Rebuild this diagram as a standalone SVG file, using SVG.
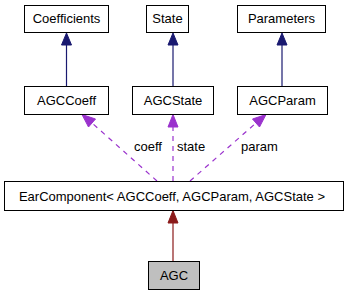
<svg xmlns="http://www.w3.org/2000/svg" width="347" height="296" viewBox="0 0 347 296">
  <style>
    .box { fill: #ffffff; stroke: #000000; stroke-width: 1; }
    .self { fill: #bfbfbf; stroke: #000000; stroke-width: 1; }
    .lbl { font-family: "Liberation Sans", Arial, Helvetica, sans-serif; font-size: 13px; fill: #000000; text-anchor: middle; }
    .edge-lbl { font-family: "Liberation Sans", Arial, Helvetica, sans-serif; font-size: 13px; fill: #000000; }
    .inherit { stroke: #191970; stroke-width: 1.2; fill: none; }
    .inherit-head { fill: #191970; stroke: #191970; }
    .usage { stroke: #9a32cd; stroke-width: 1.2; fill: none; stroke-dasharray: 5,5; }
    .usage-head { fill: #9a32cd; stroke: #9a32cd; }
    .tmpl { stroke: #8b1a1a; stroke-width: 1.2; fill: none; }
    .tmpl-head { fill: #8b1a1a; stroke: #8b1a1a; }
  </style>

  <rect width="347" height="296" fill="#ffffff"/>

  <g id="connectors">
    <!-- public inheritance -->
    <line class="inherit" x1="66.5" y1="86" x2="66.5" y2="44"/>
    <polygon class="inherit-head" points="66.5,33 61.5,45 71.5,45"/>
    <line class="inherit" x1="173" y1="86" x2="173" y2="44"/>
    <polygon class="inherit-head" points="173,33 168,45 178,45"/>
    <line class="inherit" x1="282" y1="86" x2="282" y2="44"/>
    <polygon class="inherit-head" points="282,33 277,45 287,45"/>

    <!-- usage relations -->
    <line class="usage" x1="157" y1="181" x2="92" y2="123"/>
    <polygon class="usage-head" points="82,114.5 88.5,127 95.5,119"/>
    <text class="edge-lbl" x="134" y="151">coeff</text>

    <line class="usage" x1="173" y1="181" x2="173" y2="126"/>
    <polygon class="usage-head" points="173,114.5 168,127 178,127"/>
    <text class="edge-lbl" x="177" y="151">state</text>

    <line class="usage" x1="190" y1="181" x2="256" y2="123"/>
    <polygon class="usage-head" points="266,114.5 252.5,119 259.5,127"/>
    <text class="edge-lbl" x="241" y="151">param</text>

    <!-- template instance -->
    <line class="tmpl" x1="173" y1="261" x2="173" y2="222"/>
    <polygon class="tmpl-head" points="173,210.5 168,223 178,223"/>
  </g>

  <g id="Coefficients">
    <rect class="box" x="24.5" y="5.5" width="84" height="27"/>
    <text class="lbl" x="66.5" y="23">Coefficients</text>
  </g>
  <g id="State">
    <rect class="box" x="146.5" y="5.5" width="42" height="27"/>
    <text class="lbl" x="167.5" y="23">State</text>
  </g>
  <g id="Parameters">
    <rect class="box" x="237.5" y="5.5" width="88" height="27"/>
    <text class="lbl" x="281.5" y="23">Parameters</text>
  </g>
  <g id="AGCCoeff">
    <rect class="box" x="24.5" y="86.5" width="84" height="28"/>
    <text class="lbl" x="66.5" y="105">AGCCoeff</text>
  </g>
  <g id="AGCState">
    <rect class="box" x="132.5" y="86.5" width="81" height="28"/>
    <text class="lbl" x="173" y="105">AGCState</text>
  </g>
  <g id="AGCParam">
    <rect class="box" x="237.5" y="86.5" width="90" height="28"/>
    <text class="lbl" x="282.5" y="105">AGCParam</text>
  </g>
  <g id="EarComponent">
    <rect class="box" x="4.5" y="181.5" width="339" height="29"/>
    <text class="lbl" x="172" y="200.5">EarComponent&lt; AGCCoeff, AGCParam, AGCState &gt;</text>
  </g>
  <g id="AGC">
    <rect class="self" x="148.5" y="261.5" width="51" height="28"/>
    <text class="lbl" x="174" y="280">AGC</text>
  </g>
</svg>
